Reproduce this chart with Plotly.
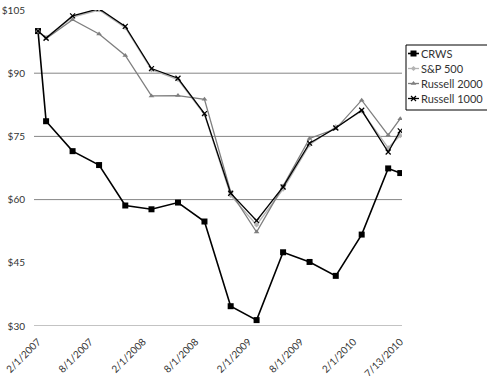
import plotly.graph_objects as go

# ---- data ----
dates = ["2007-02-01", "2007-03-01", "2007-06-01", "2007-09-01", "2007-12-01",
         "2008-03-01", "2008-06-01", "2008-09-01", "2008-12-01", "2009-03-01",
         "2009-06-01", "2009-09-01", "2009-12-01", "2010-03-01", "2010-06-01",
         "2010-07-13"]
crws = [100, 78.6, 71.5, 68.2, 58.6, 57.7, 59.3, 54.8, 34.7, 31.4, 47.5, 45.2, 41.9, 51.7, 67.4, 66.3]
sp500 = [100, 98.5, 103.3, 105.0, 100.8, 90.8, 88.5, 80.2, 61.0, 54.0, 62.5, 73.0, 77.3, 81.0, 72.3, 75.2]
russell2000 = [100, 98.2, 102.7, 99.3, 94.2, 84.6, 84.7, 83.8, 61.8, 52.3, 63.2, 74.5, 76.8, 83.6, 75.3, 79.2]
russell1000 = [100, 98.3, 103.6, 105.3, 101.1, 91.1, 88.8, 80.4, 61.5, 55.0, 63.0, 73.4, 77.0, 81.2, 71.3, 76.3]

x_tick_vals = ["2007-02-01", "2007-08-01", "2008-02-01", "2008-08-01", "2009-02-01",
               "2009-08-01", "2010-02-01", "2010-07-13"]
x_tick_text = ["2/1/2007", "8/1/2007", "2/1/2008", "8/1/2008", "2/1/2009",
               "8/1/2009", "2/1/2010", "7/13/2010"]
y_tick_vals = [30, 45, 60, 75, 90, 105]
y_tick_text = ["$30", "$45", "$60", "$75", "$90", "$105"]
grid_vals = [30, 60, 75, 90]

FONT = "Lato"
TXT = "#333333"
series = [
    ("CRWS", crws, "#000000", 1.6, dict(symbol="square", size=6, color="#000000")),
    ("S&P 500", sp500, "#b4b4b4", 1.3, dict(symbol="diamond", size=4, color="#b4b4b4")),
    ("Russell 2000", russell2000, "#7f7f7f", 1.3, dict(symbol="triangle-up", size=5, color="#7f7f7f")),
    ("Russell 1000", russell1000, "#000000", 1.3,
     dict(symbol="x-thin", size=5, color="#000000", line=dict(width=1.2, color="#000000"))),
]

fig = go.Figure()
for name, vals, color, w, mk in series:
    fig.add_trace(go.Scatter(x=dates, y=vals, mode="lines+markers", name=name,
                             line=dict(color=color, width=w), marker=mk,
                             showlegend=False, xaxis="x", yaxis="y"))

# custom legend drawn in a small overlay axis (pixel-like units)
leg_y = [8.5, 23.5, 38.5, 53.5]
for (name, vals, color, w, mk), ly in zip(series, leg_y):
    fig.add_trace(go.Scatter(x=[2, 13], y=[ly, ly], mode="lines", line=dict(color=color, width=w),
                             showlegend=False, hoverinfo="skip", xaxis="x2", yaxis="y2"))
    fig.add_trace(go.Scatter(x=[7.5], y=[ly], mode="markers", marker=mk,
                             showlegend=False, hoverinfo="skip", xaxis="x2", yaxis="y2"))
    fig.add_annotation(x=12.5, y=ly, xref="x2", yref="y2", text=name, showarrow=False,
                       xanchor="left", yanchor="middle",
                       font=dict(family=FONT, size=11, color=TXT))

shapes = []
for g in grid_vals:
    shapes.append(dict(type="line", xref="x domain", yref="y", x0=0, x1=1, y0=g, y1=g,
                       line=dict(color="#868686", width=1), layer="below"))
shapes.append(dict(type="rect", xref="x2 domain", yref="y2 domain", x0=0, x1=1.1, y0=0, y1=1,
                   line=dict(color="#000000", width=1)))

W, H = 487, 376
L, T, B = 34, 10, 50
plot_h = H - T - B
main_frac = 368 / (W - L)
fig.update_layout(
    width=W, height=H, autosize=False,
    margin=dict(l=L, r=0, t=T, b=B, pad=0),
    paper_bgcolor="white", plot_bgcolor="white",
    font=dict(family=FONT, size=10, color=TXT),
    shapes=shapes,
    xaxis=dict(domain=[0, main_frac], type="date", range=["2007-01-18", "2010-07-19"],
               tickvals=x_tick_vals, ticktext=x_tick_text, tickangle=-45,
               showgrid=False, zeroline=False, showline=False, ticks="",
               automargin=False, ticklabeloverflow="allow", ticklabelstandoff=7,
               tickfont=dict(family=FONT, size=10, color=TXT)),
    yaxis=dict(range=[30, 105], tickvals=y_tick_vals, ticktext=y_tick_text,
               showgrid=False, zeroline=False, showline=False, ticks="",
               automargin=False, ticklabeloverflow="allow", ticklabelstandoff=8,
               tickfont=dict(family=FONT, size=10, color=TXT)),
    xaxis2=dict(domain=[(406 - L) / (W - L), 1], range=[0, 81], visible=False, anchor="y2",
                fixedrange=True),
    yaxis2=dict(domain=[(326 - 110) / plot_h, (326 - 45) / plot_h], range=[65, 0], visible=False,
                anchor="x2", fixedrange=True),
)

fig.write_html("out.html", config={"displayModeBar": False},
               post_script="document.body.style.margin='0';document.body.style.overflow='hidden';")
